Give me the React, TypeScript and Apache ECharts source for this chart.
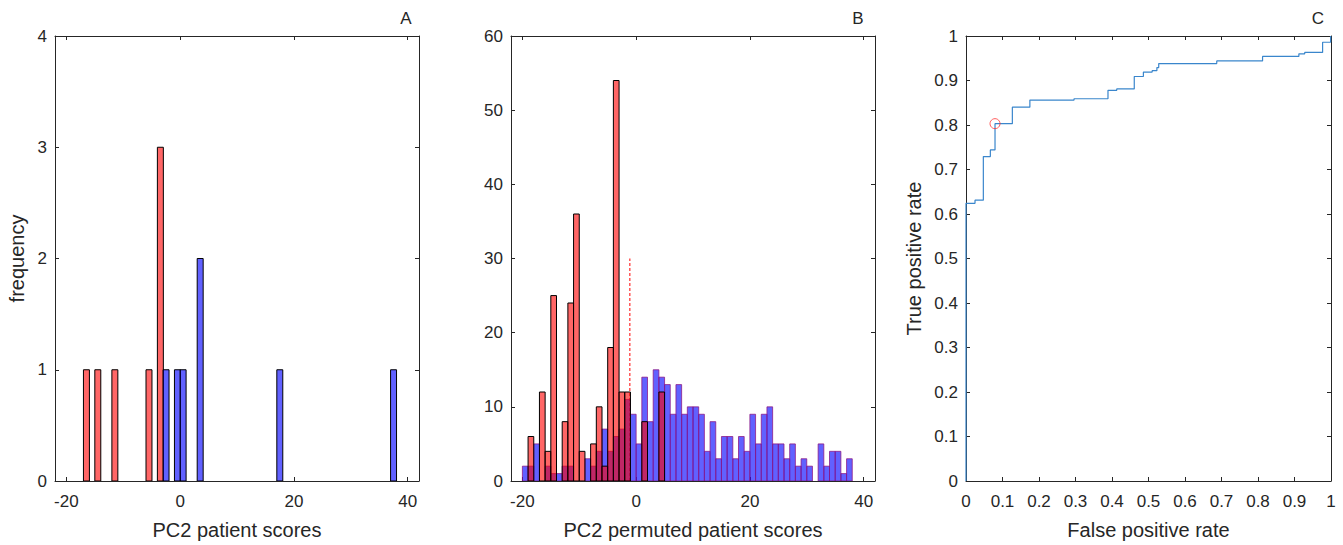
import React, { useEffect, useRef } from "react";
import * as echarts from "echarts";

// ---------- Panel A: PC2 patient scores (bin left edges and counts) ----------
const redEdgesA = [-17, -15, -12, -6, -4];
const redCountsA = [1, 1, 1, 1, 3];
const blueEdgesA = [-3, -1, 0, 3, 17, 37];
const blueCountsA = [1, 1, 1, 2, 1, 1];
const binWidthA = 1.05;

// ---------- Panel B: PC2 permuted patient scores ----------
const redStartB = -19;
const redCountsB = [6, 0, 12, 4, 25, 0, 8, 24, 36, 4, 0, 5, 10, 2, 18, 54, 12, 12, 0, 0, 8, 0, 0, 12];
const blueStartB = -20;
const blueCountsB = [
  2, 2, 5, 0, 2, 1, 1, 2, 2, 0,
  0, 3, 2, 4, 7, 4, 6, 7, 11, 9,
  5, 14, 8, 15, 14, 13, 9, 13, 9, 10,
  10, 9, 4, 8, 3, 6, 6, 3, 6, 4,
  9, 5, 9, 10, 5, 5, 3, 5, 2, 3,
  2, 0, 5, 2, 4, 4, 1, 3,
];
const binWidthB = 1;
const thresholdX = [-1.1, -1.1];
const thresholdY = [0, 30];

// ---------- Panel C: ROC curve ----------
const fpr = [0, 0, 0.0247, 0.0475, 0.0667, 0.0795, 0.127, 0.175, 0.296, 0.389, 0.413, 0.461, 0.486, 0.51, 0.523, 0.528, 0.687, 0.8125, 0.912, 0.928, 0.977, 0.999, 1];
const tpr = [0, 0.624, 0.631, 0.729, 0.744, 0.803, 0.84, 0.856, 0.859, 0.878, 0.881, 0.909, 0.919, 0.922, 0.929, 0.938, 0.944, 0.954, 0.96, 0.963, 0.986, 1, 1];
const optimalPoint = [0.0795, 0.803];

// ---------- tick labels ----------
const scoreTicks = [-20, 0, 20, 40];

const FONT = "'Liberation Sans', Arial, Helvetica, sans-serif";
const AX = "#262626";
const TICK_FS = 17;
const NAME_FS = 20;

const RED_FILL = "rgba(255,0,0,0.6)";
const BLUE_FILL = "rgba(0,0,255,0.62)";

function histData(lefts: number[], counts: number[], w: number) {
  return lefts
    .map((l, i) => [l, l + w, counts[i]])
    .filter((d) => d[2] > 0);
}

function seqLefts(start: number, n: number, w: number) {
  return Array.from({ length: n }, (_, i) => start + i * w);
}

function histSeries(axisIdx: number, data: number[][], fill: string, stroke: string, z: number) {
  return {
    type: "custom",
    xAxisIndex: axisIdx,
    yAxisIndex: axisIdx,
    clip: true,
    z,
    encode: { x: [0, 1], y: 2 },
    renderItem: (params: any, api: any) => {
      const p0 = api.coord([api.value(0), api.value(2)]);
      const p1 = api.coord([api.value(1), 0]);
      return {
        type: "rect",
        shape: { x: p0[0], y: p0[1], width: p1[0] - p0[0], height: p1[1] - p0[1] },
        style: { fill, stroke, lineWidth: 1 },
      };
    },
    data,
  };
}

function xAxes(grid: number, min: number, max: number, opts: any) {
  const common = {
    type: "value",
    gridIndex: grid,
    min,
    max,
    splitLine: { show: false },
    axisLine: { show: true, onZero: false, lineStyle: { color: AX, width: 1 } },
  };
  const tick = { show: true, inside: true, length: 4, lineStyle: { color: AX, width: 1 } } as any;
  const label = { color: AX, fontSize: TICK_FS, fontFamily: FONT, margin: 12 } as any;
  if (opts.ticks) {
    tick.customValues = opts.ticks;
    label.customValues = opts.ticks;
  }
  return [
    {
      ...common,
      position: "bottom",
      interval: opts.interval,
      name: opts.name,
      nameLocation: "middle",
      nameGap: opts.nameGap,
      nameTextStyle: { color: AX, fontSize: NAME_FS, fontFamily: FONT },
      axisTick: tick,
      axisLabel: label,
    },
    {
      ...common,
      position: "top",
      interval: opts.interval,
      axisTick: tick,
      axisLabel: { show: false, customValues: opts.ticks },
    },
  ];
}

function yAxes(grid: number, min: number, max: number, interval: number, name: string, nameGap: number) {
  const common = {
    type: "value",
    gridIndex: grid,
    min,
    max,
    interval,
    splitLine: { show: false },
    axisLine: { show: true, onZero: false, lineStyle: { color: AX, width: 1 } },
    axisTick: { show: true, inside: true, length: 4, lineStyle: { color: AX, width: 1 } },
  };
  return [
    {
      ...common,
      position: "left",
      name,
      nameLocation: "middle",
      nameGap,
      nameTextStyle: { color: AX, fontSize: NAME_FS, fontFamily: FONT },
      axisLabel: { color: AX, fontSize: TICK_FS, fontFamily: FONT, margin: 8 },
    },
    { ...common, position: "right", axisLabel: { show: false } },
  ];
}

export default function App() {
  const ref = useRef<HTMLDivElement>(null);

  useEffect(() => {
    if (!ref.current) return;
    const chart = echarts.init(ref.current, undefined, { renderer: "svg" });

    const redA = histData(redEdgesA, redCountsA, binWidthA);
    const blueA = histData(blueEdgesA, blueCountsA, binWidthA);
    const redB = histData(seqLefts(redStartB, redCountsB.length, binWidthB), redCountsB, binWidthB);
    const blueB = histData(seqLefts(blueStartB, blueCountsB.length, binWidthB), blueCountsB, binWidthB);

    const xa = [
      ...xAxes(0, -22, 42, { ticks: scoreTicks, name: "PC2 patient scores", nameGap: 39 }),
      ...xAxes(1, -22, 42, { ticks: scoreTicks, name: "PC2 permuted patient scores", nameGap: 39 }),
      ...xAxes(2, 0, 1, { interval: 0.1, name: "False positive rate", nameGap: 39 }),
    ];
    const ya = [
      ...yAxes(0, 0, 4, 1, "frequency", 28),
      ...yAxes(1, 0, 60, 10, "", 30),
      ...yAxes(2, 0, 1, 0.1, "True positive rate", 42),
    ];
    const option: any = {
      animation: false,
      backgroundColor: "#ffffff",
      textStyle: { fontFamily: FONT },
      grid: [
        { left: 55, top: 36, width: 364, height: 446 },
        { left: 511, top: 36, width: 364, height: 446 },
        { left: 966, top: 36, width: 365, height: 446 },
      ],
      xAxis: xa,
      yAxis: ya,
      graphic: [
        { type: "text", x: 406, y: 18, style: { text: "A", fill: AX, font: `${TICK_FS}px ${FONT}`, textAlign: "center", textVerticalAlign: "middle" } },
        { type: "text", x: 858, y: 18, style: { text: "B", fill: AX, font: `${TICK_FS}px ${FONT}`, textAlign: "center", textVerticalAlign: "middle" } },
        { type: "text", x: 1318, y: 18, style: { text: "C", fill: AX, font: `${TICK_FS}px ${FONT}`, textAlign: "center", textVerticalAlign: "middle" } },
      ],
      series: [
        histSeries(0, redA, RED_FILL, "#000000", 2),
        histSeries(0, blueA, BLUE_FILL, "#000000", 2),
        {
          type: "line",
          xAxisIndex: 2,
          yAxisIndex: 2,
          z: 1,
          symbol: "none",
          lineStyle: { color: "#ff0000", width: 1, type: [3, 2] },
          data: thresholdX.map((x, i) => [x, thresholdY[i]]),
        },
        histSeries(2, blueB, BLUE_FILL, "rgba(140,20,130,0.75)", 2),
        histSeries(2, redB, RED_FILL, "#000000", 3),
        {
          type: "line",
          xAxisIndex: 4,
          yAxisIndex: 4,
          step: "end",
          symbol: "none",
          z: 2,
          lineStyle: { color: "#3a86cc", width: 1.2 },
          data: fpr.map((x, i) => [x, tpr[i]]),
        },
        {
          type: "scatter",
          xAxisIndex: 4,
          yAxisIndex: 4,
          z: 3,
          symbol: "circle",
          symbolSize: 10,
          itemStyle: { color: "rgba(0,0,0,0)", borderColor: "#ff3333", borderWidth: 1 },
          data: [optimalPoint],
        },
      ],
    };
    chart.setOption(option);
    return () => chart.dispose();
  }, []);

  return (
    <div
      ref={ref}
      style={{ position: "fixed", left: 0, top: 0, width: 1343, height: 545, background: "#fff" }}
    />
  );
}
